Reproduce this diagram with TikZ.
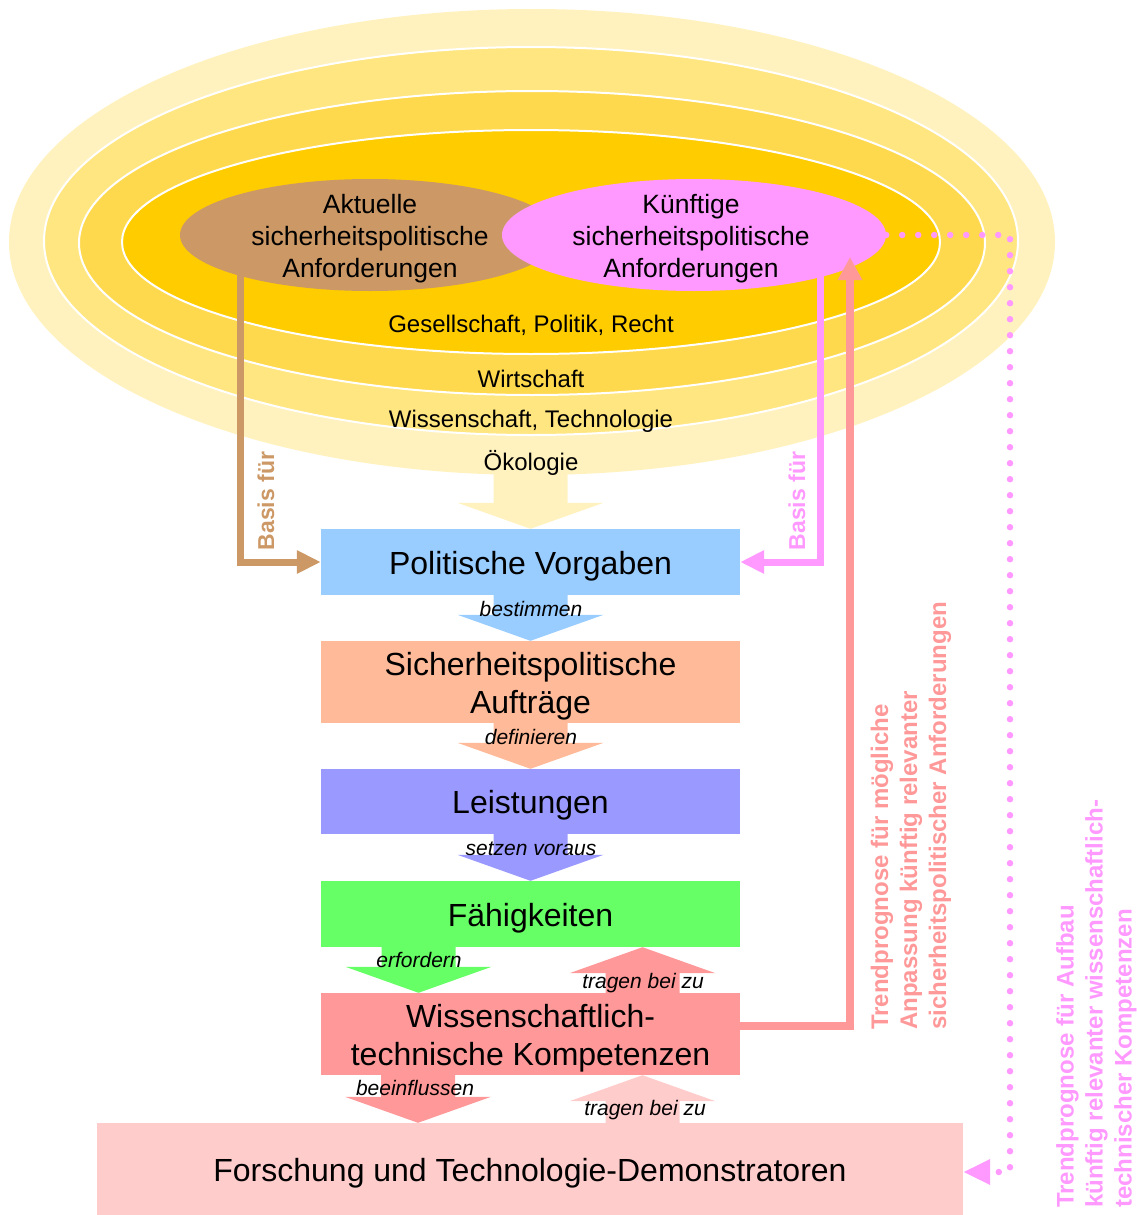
\documentclass[tikz,border=0pt]{standalone}
\usepackage{fontspec}
\setmainfont{Liberation Sans}
\usetikzlibrary{shapes.geometric,arrows.meta,calc}
\definecolor{ringA}{HTML}{FFF2BF}
\definecolor{ringB}{HTML}{FFE680}
\definecolor{ringC}{HTML}{FFD94D}
\definecolor{ringD}{HTML}{FFCC00}
\definecolor{cbrown}{HTML}{CC9966}
\definecolor{cpink}{HTML}{FF99FF}
\definecolor{cblue}{HTML}{99CCFF}
\definecolor{cpeach}{HTML}{FFBB99}
\definecolor{clilac}{HTML}{9999FF}
\definecolor{cgreen}{HTML}{66FF66}
\definecolor{csalmon}{HTML}{FF9999}
\definecolor{crose}{HTML}{FFCCCC}
\newcommand\blkdown[3]{\fill[#3] let \p1=(#1), \p2=(#2) in
  (\x2-37pt,\y1) -- (\x2+37pt,\y1) -- (\x2+37pt,\y2+26pt) -- (\x2+73pt,\y2+26pt)
  -- (\x2,\y2) -- (\x2-73pt,\y2+26pt) -- (\x2-37pt,\y2+26pt) -- cycle;}
\newcommand\blkup[3]{\fill[#3] let \p1=(#1), \p2=(#2) in
  (\x2-37pt,\y1) -- (\x2+37pt,\y1) -- (\x2+37pt,\y2-26pt) -- (\x2+73pt,\y2-26pt)
  -- (\x2,\y2) -- (\x2-73pt,\y2-26pt) -- (\x2-37pt,\y2-26pt) -- cycle;}
\begin{document}
\begin{tikzpicture}[x=1pt,y=-1pt,
  box/.style={rectangle, inner sep=0pt, minimum width=419pt},
  boxtext/.style={inner sep=0pt, align=center, font=\fontsize{32pt}{38pt}\selectfont},
  req/.style={ellipse, inner sep=0pt, minimum height=112pt},
  reqtext/.style={inner sep=0pt, align=center, font=\fontsize{26.5pt}{32pt}\selectfont},
  ringtext/.style={inner sep=0pt, font=\fontsize{24pt}{28pt}\selectfont},
  verb/.style={inner sep=0pt, font=\fontsize{21pt}{25pt}\selectfont\itshape},
  side/.style={rotate=90, inner sep=0pt, align=left,
    font=\fontsize{24pt}{29pt}\selectfont\bfseries},
  basis/.style={rotate=90, inner sep=0pt, font=\fontsize{23pt}{28pt}\selectfont\bfseries},
  link/.style={line width=7pt, -{Triangle[length=24pt,width=22pt]}},
]
\useasboundingbox (0,0) rectangle (1136,1215);
% rings
\fill[ringA] (532,242) ellipse [x radius=523pt, y radius=233pt];
\filldraw[fill=ringB, draw=white, line width=2pt] (531,241) ellipse [x radius=487pt, y radius=194pt];
\filldraw[fill=ringC, draw=white, line width=2pt] (532,243) ellipse [x radius=453pt, y radius=152pt];
\filldraw[fill=ringD, draw=white, line width=2pt] (531,242) ellipse [x radius=409pt, y radius=112pt];
% requirement ellipses
\node[req, fill=cbrown, minimum width=380pt] (akt) at (370,235) {};
\node[reqtext] (akttxt) at (370,239) {Aktuelle\\sicherheitspolitische\\Anforderungen};
\node[req, fill=cpink, minimum width=384pt] (kue) at (694,235) {};
\node[reqtext] (kuetxt) at (691,239) {Künftige\\sicherheitspolitische\\Anforderungen};
% boxes
\node[box, fill=cblue, minimum height=66pt] (pv) at (530.5,562) {};
\node[box, fill=cpeach, minimum height=82pt] (sa) at (530.5,682) {};
\node[box, fill=clilac, minimum height=65pt] (le) at (530.5,801.5) {};
\node[box, fill=cgreen, minimum height=66pt] (fa) at (530.5,914) {};
\node[box, fill=csalmon, minimum height=82pt] (wk) at (530.5,1034) {};
\node[box, fill=crose, minimum width=866pt, minimum height=92pt] (ft) at (530,1169) {};
\node[boxtext] (pvtxt) at ([yshift=-4pt]pv.center) {Politische Vorgaben};
\node[boxtext] (satxt) at ([yshift=-4pt]sa.center) {Sicherheitspolitische\\Aufträge};
\node[boxtext] (letxt) at ([yshift=-4pt]le.center) {Leistungen};
\node[boxtext] (fatxt) at ([yshift=-4pt]fa.center) {Fähigkeiten};
\node[boxtext] (wktxt) at ([yshift=-4pt]wk.center) {Wissenschaftlich-\\technische Kompetenzen};
\node[boxtext] (fttxt) at ([yshift=-4pt]ft.center) {Forschung und Technologie-Demonstratoren};
% block arrows
\coordinate (ytop) at (530.5,462);
\blkdown{ytop}{pv.north}{ringA}
\blkdown{pv.south}{sa.north}{cblue}
\blkdown{sa.south}{le.north}{cpeach}
\blkdown{le.south}{fa.north}{clilac}
\blkdown{[xshift=-112pt]fa.south}{[xshift=-112pt]wk.north}{cgreen}
\blkdown{[xshift=-112pt]wk.south}{[xshift=-112pt]ft.north}{csalmon}
\blkup{[xshift=112pt]wk.north}{[xshift=112pt]fa.south}{csalmon}
\blkup{[xshift=112pt]ft.north}{[xshift=112pt]wk.south}{crose}
% ring texts
\node[ringtext] (r1) at (531,325) {Gesellschaft, Politik, Recht};
\node[ringtext] (r2) at (531,379) {Wirtschaft};
\node[ringtext] (r3) at (531,421) {Wissenschaft, Technologie};
\node[ringtext] (r4) at (531,463) {Ökologie};
% verb labels
\node[verb] (l1) at (531,609) {bestimmen};
\node[verb] (l2) at (531,737) {definieren};
\node[verb] (l3) at (531,849) {setzen voraus};
\node[verb] (l4) at (419,960) {erfordern};
\node[verb] (l5) at (643,983) {tragen bei zu};
\node[verb] (l6) at (415,1088) {beeinflussen};
\node[verb] (l7) at (645,1110) {tragen bei zu};
% connectors
\coordinate (bstart) at (240.5,275);
\draw[link, cbrown] (bstart) |- (pv.west);
\coordinate (pstart) at (820,275);
\draw[link, cpink] (pstart) |- (pv.east);
\coordinate (stip) at (850,257);
\draw[csalmon, line width=8pt, -{Triangle[length=23pt,width=23pt]}] ([yshift=8pt]wk.east) -| (stip);
\coordinate (dc1) at (1010,235);
\coordinate (dc2) at (1010,1172);
\draw[cpink, line width=6.5pt, line cap=round, dash pattern=on 0pt off 16pt,
  -{Triangle[length=27pt,width=24pt]}] (kue.east) -- (dc1) -- (dc2) -- (ft.east |- dc2);
% side labels
\node[basis, text=cbrown] (bf1) at (266,501) {Basis für};
\node[basis, text=cpink] (bf2) at (797,501) {Basis für};
\node[side, text=csalmon, anchor=west] (tr1) at (911,1030)
  {Trendprognose für mögliche\\Anpassung künftig relevanter\\sicherheitspolitischer Anforderungen};
\node[side, text=cpink, anchor=west] (tr2) at (1096.5,1208)
  {Trendprognose für Aufbau\\künftig relevanter wissenschaftlich-\\technischer Kompetenzen};
\end{tikzpicture}
\end{document}
